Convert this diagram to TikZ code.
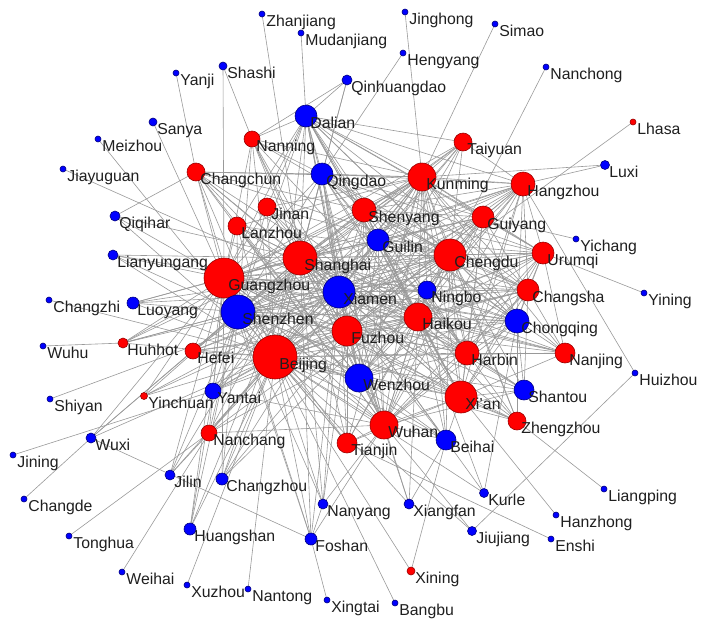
\documentclass[tikz,border=0pt]{standalone}
\usepackage{fontspec}
\setmainfont{Liberation Sans}
\pgfdeclarelayer{bg}\pgfdeclarelayer{fg}
\pgfsetlayers{bg,main,fg}
\tikzset{
 edge/.style={draw=black!40, line width=0.3pt},
 rnode/.style={circle, fill=red, draw=red!60!black, line width=0.3pt, inner sep=0pt},
 bnode/.style={circle, fill=blue, draw=blue!50!black, line width=0.3pt, inner sep=0pt},
 lab/.style={font=\fontsize{7.9pt}{9pt}\selectfont, text=black!88, inner sep=0pt, anchor=base west},
}
\newcommand\cityA[6]{%
  \node[#6, minimum size={#5*1pt}] (#1) at (#3,#4) {};
  \begin{pgfonlayer}{fg}\node[lab] (#1-lab) at (#3+4,#4+12) {#2};\end{pgfonlayer}%
}
\newcommand\linkto[2]{\foreach \t in {#2}{\draw[edge] (#1.center) -- (\t.center);}}
\begin{document}
\begin{tikzpicture}[x=0.5pt,y=-0.5pt]
\useasboundingbox (0,0) rectangle (704,621);
% big nodes
\cityA{Beijing}{Beijing}{275}{357}{22}{rnode}
\cityA{Guangzhou}{Guangzhou}{224}{278}{20}{rnode}
\cityA{Shanghai}{Shanghai}{300}{258}{17}{rnode}
\cityA{Shenzhen}{Shenzhen}{238}{312}{17}{bnode}
\cityA{Xiamen}{Xiamen}{339}{292}{16}{bnode}
\cityA{Chengdu}{Chengdu}{450}{255}{16}{rnode}
\cityA{XiAn}{Xi'an}{461}{397}{16}{rnode}
\cityA{Fuzhou}{Fuzhou}{347}{331}{15}{rnode}
\cityA{Kunming}{Kunming}{422}{177}{14}{rnode}
\cityA{Haikou}{Haikou}{418}{317}{14}{rnode}
\cityA{Wuhan}{Wuhan}{384}{425}{14}{rnode}
\cityA{Wenzhou}{Wenzhou}{359}{378}{14}{bnode}
\cityA{Shenyang}{Shenyang}{364}{210}{12}{rnode}
\cityA{Hangzhou}{Hangzhou}{523}{184}{12}{rnode}
\cityA{Chongqing}{Chongqing}{517}{321}{12}{bnode}
\cityA{Harbin}{Harbin}{467}{353}{12}{rnode}
\cityA{Dalian}{Dalian}{306}{116}{11}{bnode}
\cityA{Qingdao}{Qingdao}{322}{174}{11}{bnode}
\cityA{Guilin}{Guilin}{378}{240}{11}{bnode}
\cityA{Urumqi}{Urumqi}{543}{253}{11}{rnode}
\cityA{Changsha}{Changsha}{528}{290}{11}{rnode}
\cityA{Guiyang}{Guiyang}{483}{217}{11}{rnode}
% medium nodes
\cityA{Taiyuan}{Taiyuan}{463}{142}{9}{rnode}
\cityA{Nanning}{Nanning}{252}{139}{8}{rnode}
\cityA{Changchun}{Changchun}{196}{172}{9}{rnode}
\cityA{Jinan}{Jinan}{267}{207}{9}{rnode}
\cityA{Lanzhou}{Lanzhou}{237}{226}{9}{rnode}
\cityA{Ningbo}{Ningbo}{427}{290}{9}{bnode}
\cityA{Nanjing}{Nanjing}{565}{353}{10}{rnode}
\cityA{Shantou}{Shantou}{524}{390}{10}{bnode}
\cityA{Zhengzhou}{Zhengzhou}{517}{421}{9}{rnode}
\cityA{Tianjin}{Tianjin}{347}{443}{10}{rnode}
\cityA{Beihai}{Beihai}{446}{440}{10}{bnode}
\cityA{Yantai}{Yantai}{213}{391}{8}{bnode}
\cityA{Hefei}{Hefei}{193}{351}{8}{rnode}
\cityA{Nanchang}{Nanchang}{209}{433}{8}{rnode}
\cityA{Huhhot}{Huhhot}{123}{343}{5}{rnode}
\cityA{Yinchuan}{Yinchuan}{144}{396}{3.5}{rnode}
\cityA{Luoyang}{Luoyang}{133}{303}{6}{bnode}
\cityA{Lianyungang}{Lianyungang}{113}{255}{5}{bnode}
\cityA{Qiqihar}{Qiqihar}{115}{216}{5}{bnode}
\cityA{Wuxi}{Wuxi}{91}{438}{5}{bnode}
\cityA{Jilin}{Jilin}{170}{475}{5}{bnode}
\cityA{Changzhou}{Changzhou}{222}{479}{6}{bnode}
\cityA{Huangshan}{Huangshan}{190}{529}{6}{bnode}
\cityA{Foshan}{Foshan}{311}{539}{6}{bnode}
\cityA{Nanyang}{Nanyang}{323}{504}{5}{bnode}
\cityA{Xiangfan}{Xiangfan}{409}{504}{5}{bnode}
\cityA{Kurle}{Kurle}{484}{493}{4.5}{bnode}
\cityA{Jiujiang}{Jiujiang}{472}{531}{4.5}{bnode}
\cityA{Xining}{Xining}{411}{571}{4}{rnode}
\cityA{Qinhuangdao}{Qinhuangdao}{347}{80}{5}{bnode}
\cityA{Luxi}{Luxi}{605}{165}{4.5}{bnode}
\cityA{Sanya}{Sanya}{153}{122}{4}{bnode}
\cityA{Shashi}{Shashi}{223}{66}{4}{bnode}
% small nodes
\cityA{Zhanjiang}{Zhanjiang}{262}{14}{3}{bnode}
\cityA{Mudanjiang}{Mudanjiang}{301}{33}{3}{bnode}
\cityA{Jinghong}{Jinghong}{405}{12}{3}{bnode}
\cityA{Hengyang}{Hengyang}{403}{53}{3}{bnode}
\cityA{Simao}{Simao}{495}{24}{3}{bnode}
\cityA{Nanchong}{Nanchong}{546}{67}{3}{bnode}
\cityA{Lhasa}{Lhasa}{633}{122}{3}{rnode}
\cityA{Yichang}{Yichang}{576}{239}{3}{bnode}
\cityA{Yining}{Yining}{644}{293}{3}{bnode}
\cityA{Huizhou}{Huizhou}{635}{373}{3}{bnode}
\cityA{Liangping}{Liangping}{604}{489}{3}{bnode}
\cityA{Hanzhong}{Hanzhong}{556}{515}{3}{bnode}
\cityA{Enshi}{Enshi}{551}{539}{3}{bnode}
\cityA{Bangbu}{Bangbu}{395}{603}{3}{bnode}
\cityA{Xingtai}{Xingtai}{327}{600}{3}{bnode}
\cityA{Nantong}{Nantong}{248}{589}{3}{bnode}
\cityA{Xuzhou}{Xuzhou}{187}{585}{3}{bnode}
\cityA{Weihai}{Weihai}{122}{572}{3}{bnode}
\cityA{Tonghua}{Tonghua}{69}{536}{3}{bnode}
\cityA{Changde}{Changde}{24}{499}{3}{bnode}
\cityA{Jining}{Jining}{13}{455}{3}{bnode}
\cityA{Shiyan}{Shiyan}{50}{399}{3}{bnode}
\cityA{Wuhu}{Wuhu}{43}{346}{3}{bnode}
\cityA{Changzhi}{Changzhi}{49}{300}{3}{bnode}
\cityA{Jiayuguan}{Jiayuguan}{63}{169}{3}{bnode}
\cityA{Meizhou}{Meizhou}{98}{139}{3}{bnode}
\cityA{Yanji}{Yanji}{176}{73}{3}{bnode}
% edges
\begin{pgfonlayer}{bg}
\foreach \a [count=\i] in {Beijing,Guangzhou,Shanghai,Shenzhen,Xiamen,Chengdu,XiAn,Fuzhou,Kunming,Haikou,Wuhan,Wenzhou,Shenyang,Hangzhou,Chongqing,Harbin,Dalian,Qingdao,Guilin,Urumqi,Changsha,Guiyang}{
  \foreach \b [count=\j] in {Beijing,Guangzhou,Shanghai,Shenzhen,Xiamen,Chengdu,XiAn,Fuzhou,Kunming,Haikou,Wuhan,Wenzhou,Shenyang,Hangzhou,Chongqing,Harbin,Dalian,Qingdao,Guilin,Urumqi,Changsha,Guiyang}{
    \ifnum\j>\i \draw[edge] (\a.center) -- (\b.center);\fi
  }
}
\linkto{Taiyuan}{Beijing,Shanghai,Guangzhou,Chengdu,Kunming,Dalian,Hangzhou,Xiamen,Shenzhen,Fuzhou,Wenzhou}
\linkto{Nanning}{Beijing,Shanghai,Guangzhou,Shenzhen,Chengdu,Kunming,Dalian,Xiamen,Haikou,Qingdao,Wuhan,Fuzhou}
\linkto{Changchun}{Beijing,Shanghai,Guangzhou,Shenzhen,Chengdu,Kunming,Qingdao,Xiamen,Fuzhou,Haikou,Wuhan,Shenyang,Qiqihar,Wenzhou}
\linkto{Jinan}{Beijing,Shanghai,Guangzhou,Shenzhen,Chengdu,Kunming,Xiamen,Haikou,Dalian,Fuzhou,XiAn}
\linkto{Lanzhou}{Beijing,Shanghai,Guangzhou,Shenzhen,Chengdu,Kunming,Xiamen,Wenzhou,Dalian,Haikou,Wuhan}
\linkto{Ningbo}{Beijing,Shanghai,Guangzhou,Shenzhen,Chengdu,Kunming,Xiamen,Harbin,Chongqing,Wuhan}
\linkto{Nanjing}{Beijing,Guangzhou,Shenzhen,Chengdu,Kunming,Xiamen,Haikou,Chongqing,Changsha,Harbin,XiAn,Urumqi,Shanghai}
\linkto{Shantou}{Beijing,Shanghai,Chengdu,Haikou,Chongqing,Harbin,XiAn,Changsha,Wuhan,Guangzhou}
\linkto{Zhengzhou}{Beijing,Shanghai,Guangzhou,Shenzhen,Chengdu,Kunming,Haikou,XiAn,Chongqing,Harbin}
\linkto{Tianjin}{Beijing,Shanghai,Guangzhou,Shenzhen,Chengdu,Kunming,Xiamen,Haikou,Wuhan,Fuzhou,XiAn}
\linkto{Beihai}{Beijing,Shanghai,Guangzhou,Shenzhen,Chengdu,Kunming,Xiamen,Haikou,Wuhan,XiAn}
\linkto{Yantai}{Beijing,Shanghai,Guangzhou,Shenzhen,Chengdu,Kunming,Xiamen,Haikou,Wuhan,Fuzhou}
\linkto{Hefei}{Beijing,Shanghai,Guangzhou,Shenzhen,Chengdu,Kunming,Xiamen,Haikou,Fuzhou,Wenzhou}
\linkto{Nanchang}{Beijing,Shanghai,Guangzhou,Shenzhen,Chengdu,Kunming,Xiamen,Haikou,Wuhan}
\linkto{Huhhot}{Beijing,Shanghai,Guangzhou,Shenzhen,Chengdu,Kunming,Xiamen}
\linkto{Yinchuan}{Beijing,Shanghai,Guangzhou,Chengdu,Xiamen}
\linkto{Luoyang}{Guangzhou,Shenzhen,Beijing,Shanghai,Chengdu,Xiamen}
\linkto{Lianyungang}{Guangzhou,Beijing,Shanghai,Shenzhen,Xiamen}
\linkto{Qiqihar}{Guangzhou,Shanghai,Beijing}
\linkto{Wuxi}{Beijing,Shenzhen,Guangzhou,Foshan,Hefei}
\linkto{Jilin}{Beijing,Shenzhen,Shanghai,Nanchang,Guangzhou}
\linkto{Changzhou}{Beijing,Shenzhen,Guangzhou,Shanghai,Xiamen,Fuzhou,Chengdu}
\linkto{Huangshan}{Beijing,Guangzhou,Shenzhen,Shanghai,Yantai}
\linkto{Foshan}{Beijing,Guangzhou,Shenzhen,Shanghai,Xiamen,Wuhan,Nanyang}
\linkto{Nanyang}{Beijing,Shanghai,Xiamen,Wuhan,Fuzhou,Guangzhou}
\linkto{Xiangfan}{Beijing,Wuhan,Beihai,Xiamen,Haikou}
\linkto{Kurle}{Chongqing,Beijing,Xiamen,Haikou}
\linkto{Jiujiang}{Huizhou,Beijing,Wuhan}
\linkto{Xining}{Beijing,Beihai}
\linkto{Qinhuangdao}{Dalian,Nanning,Qingdao,Shanghai}
\linkto{Luxi}{Kunming,Hangzhou}
\linkto{Sanya}{Guangzhou}
\linkto{Shashi}{Nanning,Guangzhou}
\linkto{Zhanjiang}{Shanghai}
\linkto{Mudanjiang}{Dalian}
\linkto{Jinghong}{Kunming}
\linkto{Hengyang}{Qingdao}
\linkto{Simao}{Kunming}
\linkto{Nanchong}{Chengdu}
\linkto{Lhasa}{Chengdu}
\linkto{Yichang}{Guiyang}
\linkto{Yining}{Urumqi}
\linkto{Huizhou}{Hangzhou}
\linkto{Liangping}{Zhengzhou}
\linkto{Hanzhong}{XiAn}
\linkto{Enshi}{Tianjin}
\linkto{Bangbu}{Beijing}
\linkto{Xingtai}{Foshan}
\linkto{Nantong}{Beijing}
\linkto{Xuzhou}{Beijing}
\linkto{Weihai}{Nanchang}
\linkto{Tonghua}{Nanchang}
\linkto{Changde}{Wuxi}
\linkto{Jining}{Yantai}
\linkto{Shiyan}{Xiamen}
\linkto{Wuhu}{Huhhot}
\linkto{Changzhi}{Beijing}
\linkto{Jiayuguan}{Xiamen}
\linkto{Meizhou}{Shenzhen}
\linkto{Yanji}{Changchun}
\end{pgfonlayer}
\end{tikzpicture}
\end{document}
